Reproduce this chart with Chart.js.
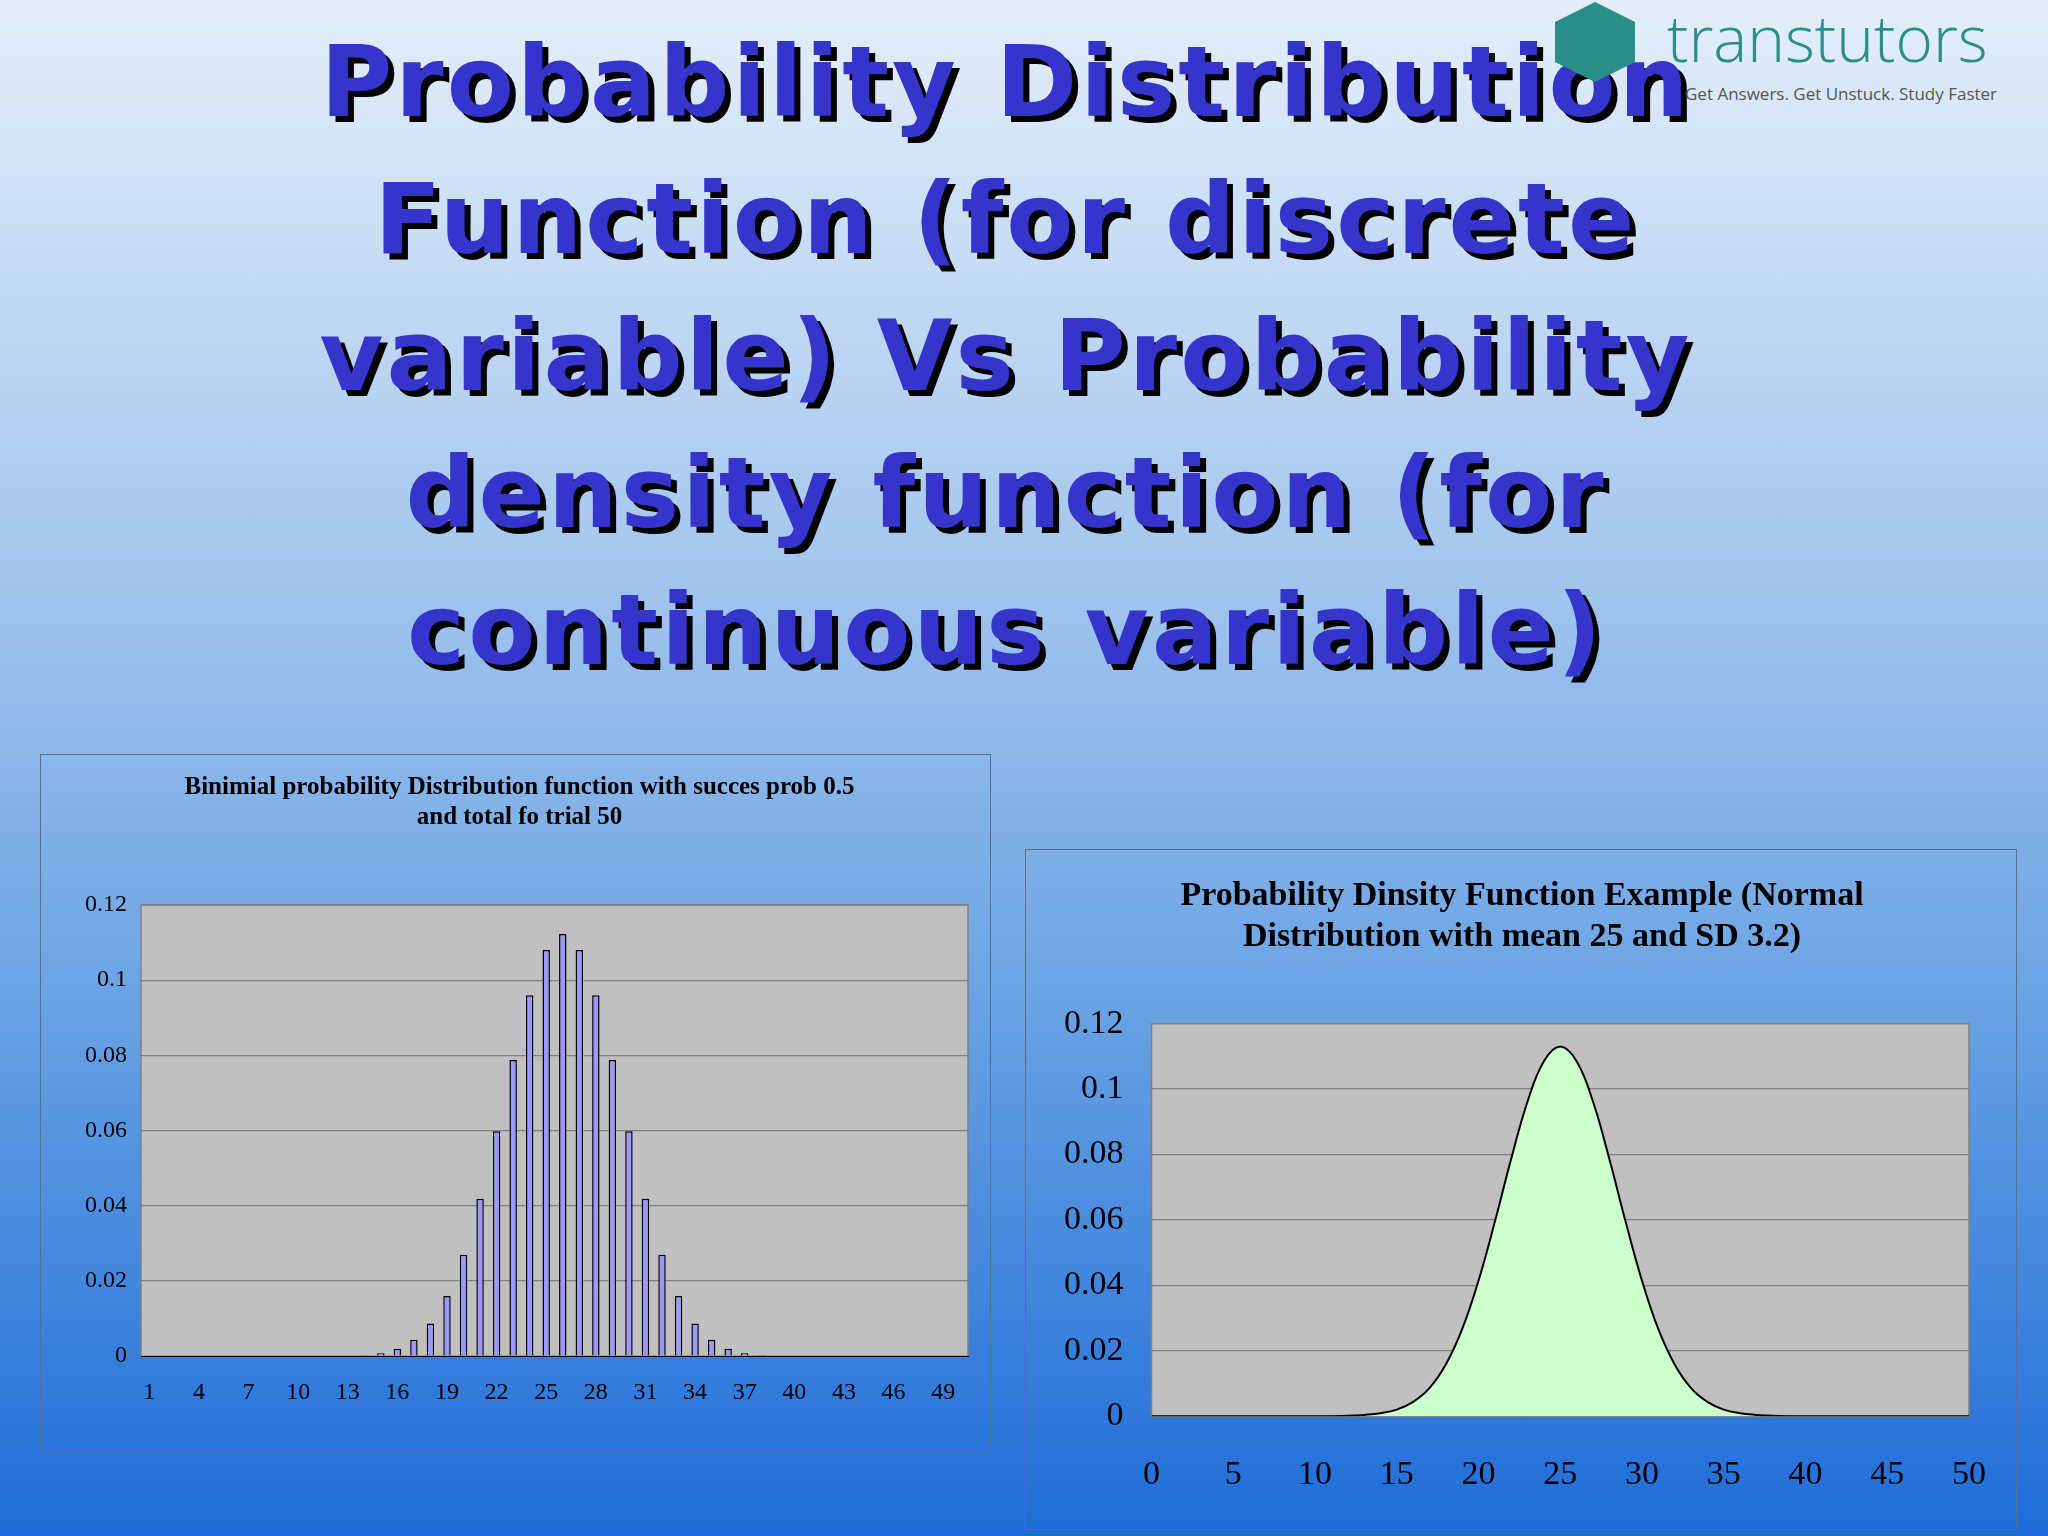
<!DOCTYPE html>
<html>
<head>
<meta charset="utf-8">
<script src="https://cdn.jsdelivr.net/npm/chart.js@4/dist/chart.umd.min.js"></script>
<style>
body { margin:0; width:2048px; height:1536px; overflow:hidden;
  background: linear-gradient(to bottom, #e4eefa 0%, #a8c8ee 35%, #6aa3e4 65%, #1e6cd8 100%);
  font-family: "Liberation Serif", serif; position:relative; }
#title { position:absolute; left:0; top:14px; width:2012px; text-align:center;
  font-family:"DejaVu Sans", sans-serif; font-weight:900; font-size:98px; line-height:137px;
  color:#3535cc; text-shadow: 6px 6px 0 #000; letter-spacing:3px; }
.box { position:absolute; border:1.5px solid #5a6f8c; }
#logo { position:absolute; left:1555px; top:0px; width:493px; height:110px; overflow:hidden; }
#logo .mark { position:absolute; left:0; top:2px; width:80px; height:80px; background:#2a8f86;
  clip-path: polygon(50% 0, 100% 25%, 100% 75%, 50% 100%, 0 75%, 0 25%); }
#logo .word { position:absolute; left:112px; top:-6px; font-family:"Open Sans", sans-serif;
  font-size:64px; font-weight:300; color:#2a8f86; }
#logo .tag { position:absolute; left:130px; top:82px; font-family:"Open Sans", sans-serif;
  font-size:17px; color:#555; white-space:nowrap; }
</style>
</head>
<body>
<div id="title">Probability Distribution<br>Function (for discrete<br>variable) Vs Probability<br>density function (for<br>continuous variable)</div>
<div id="logo"><div class="mark"></div><div class="word">transtutors</div><div class="tag">Get Answers. Get Unstuck. Study Faster</div></div>
<div class="box" style="left:40px;top:754px;width:949px;height:694px;"><canvas id="graphCanvas1" width="949" height="694"></canvas></div>
<div class="box" style="left:1025px;top:849px;width:990px;height:679px;"><canvas id="graphCanvas2" width="990" height="679"></canvas></div>
<script>
// binomial probabilities for categories 1..50
var trial_labels = [];
for (var i = 1; i <= 50; i++) trial_labels.push(String(i));
var binom_values = [0,0,0,0,0,0,0,0,0,0,
  0,0,0.0001,0.0003,0.0008,0.0020,0.0044,0.0087,0.0160,0.0270,
  0.0419,0.0598,0.0788,0.0960,0.1080,0.1123,0.1080,0.0960,0.0788,0.0598,
  0.0419,0.0270,0.0160,0.0087,0.0044,0.0020,0.0008,0.0003,0.0001,0,
  0,0,0,0,0,0,0,0,0,0];
// normal density, mean 25
var normal_x = [0,1,2,3,4,5,6,7,8,9,10,11,12,13,14,15,16,17,18,19,20,21,22,23,24,25,
  26,27,28,29,30,31,32,33,34,35,36,37,38,39,40,41,42,43,44,45,46,47,48,49,50];
var normal_y = [0,0,0,0,0,0,0,0,0,0,0,0,0.0001,0.0004,0.0009,0.0020,0.0044,0.0086,0.0158,0.0266,0.0414,0.0594,0.0787,0.0962,0.1085,0.1130,
  0.1085,0.0962,0.0787,0.0594,0.0414,0.0266,0.0158,0.0086,0.0044,0.0020,0.0009,0.0004,0.0001,0,0,0,0,0,0,0,0,0,0,0,0];

var plotBg = {
    id: 'plotBg',
    beforeDraw: function(chart) {
        var a = chart.chartArea, ctx = chart.ctx;
        ctx.save();
        ctx.fillStyle = '#c0c0c0';
        ctx.fillRect(a.left, a.top, a.right - a.left, a.bottom - a.top);
        ctx.strokeStyle = '#808080';
        ctx.lineWidth = 1.5;
        ctx.strokeRect(a.left, a.top, a.right - a.left, a.bottom - a.top);
        ctx.restore();
    }
};
function yTick(v) { return +v.toFixed(2); }

new Chart(document.getElementById('graphCanvas1'), {
    type: 'bar',
    data: { labels: trial_labels, datasets: [{
        data: binom_values, backgroundColor: '#9999ff', borderColor: '#000', borderWidth: 1.5,
        barPercentage: 0.45, categoryPercentage: 1 }] },
    options: {
        responsive: false, animation: false,
        layout: { padding: { left: 30, right: 22, top: 10, bottom: 28 } },
        plugins: {
            legend: { display: false },
            title: { display: true, color: '#000', padding: { top: 8, bottom: 72 },
                font: { family: 'Liberation Serif', size: 25, weight: 'bold' },
                text: ['Binimial probability Distribution function with succes prob 0.5', 'and total fo trial 50'] }
        },
        scales: {
            y: { min: 0, max: 0.12, ticks: { stepSize: 0.02, color: '#000', padding: 14, callback: yTick,
                    font: { family: 'Liberation Serif', size: 24 } },
                 grid: { color: '#808080', lineWidth: 1.3, drawTicks: false }, border: { display: false } },
            x: { ticks: { color: '#000', autoSkip: false, maxRotation: 0, padding: 14,
                    font: { family: 'Liberation Serif', size: 24 },
                    callback: function(v, i) { return i % 3 === 0 ? trial_labels[i] : ''; } },
                 grid: { display: false }, border: { color: '#000' } }
        }
    },
    plugins: [plotBg]
});

new Chart(document.getElementById('graphCanvas2'), {
    type: 'line',
    data: { datasets: [{
        data: normal_x.map(function(x, i) { return { x: x, y: normal_y[i] }; }),
        borderColor: '#000', borderWidth: 2, backgroundColor: '#ccffcc', fill: 'origin',
        pointRadius: 0, tension: 0.4 }] },
    options: {
        responsive: false, animation: false,
        layout: { padding: { left: 10, right: 8, top: 10, bottom: 4 } },
        plugins: {
            legend: { display: false },
            title: { display: true, color: '#000', padding: { top: 16, bottom: 66 },
                font: { family: 'Liberation Serif', size: 34, weight: 'bold' },
                text: ['Probability Dinsity Function Example (Normal', 'Distribution with mean 25 and SD 3.2)'] }
        },
        scales: {
            y: { min: 0, max: 0.12, ticks: { stepSize: 0.02, color: '#000', padding: 28, callback: yTick,
                    font: { family: 'Liberation Serif', size: 34 } },
                 grid: { color: '#808080', lineWidth: 1.3, drawTicks: false }, border: { display: false } },
            x: { type: 'linear', min: 0, max: 50, ticks: { stepSize: 5, color: '#000', padding: 30,
                    font: { family: 'Liberation Serif', size: 34 } },
                 grid: { display: false }, border: { color: '#808080' } }
        }
    },
    plugins: [plotBg]
});
</script>
</body>
</html>
